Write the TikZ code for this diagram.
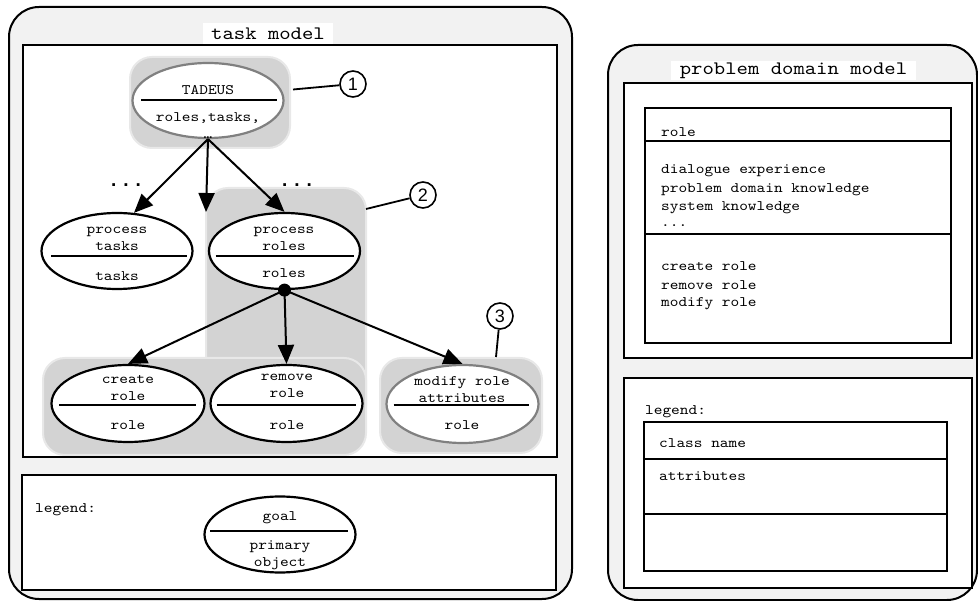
\documentclass[tikz,border=0pt]{standalone}
\usepackage{fontspec}
\newfontfamily\cour{lmmono10-regular.otf}[FakeStretch=1.14]
\newfontfamily\arial{Liberation Sans}
\usetikzlibrary{shapes.geometric,arrows.meta,calc}
\definecolor{outerfill}{HTML}{F2F2F2}
\definecolor{grpfill}{HTML}{D3D3D3}
\definecolor{grpline}{HTML}{E8E8E8}
\definecolor{ellgray}{HTML}{808080}
\begin{document}
\begin{tikzpicture}[x=1pt,y=-1pt,
 outer/.style={draw=black, line width=2pt, fill=outerfill, rounded corners=30pt},
 panel/.style={draw=black, line width=2.5pt, fill=white},
 grp/.style={draw=grpline, line width=2pt, fill=grpfill, rounded corners=22pt, inner sep=0},
 ell/.style={ellipse, draw=black, line width=2.2pt, fill=white, minimum width=151pt, minimum height=76pt, inner sep=0},
 gell/.style={ell, draw=ellgray},
 sepline/.style={line width=2.2pt},
 txt/.style={font=\cour\fontsize{14.5}{17}\selectfont, inner sep=0, align=center},
 ltxt/.style={font=\cour\fontsize{14.5}{17}\selectfont, inner sep=0, anchor=west},
 title/.style={font=\cour\fontsize{19}{20}\selectfont, fill=white, inner sep=0},
 arr/.style={line width=2pt, -{Triangle[length=19pt,width=16pt]}},
 num/.style={circle, draw, line width=1.6pt, minimum size=26pt, inner sep=0, font=\arial\fontsize{18}{20}\selectfont},
 dotstxt/.style={font=\arial\bfseries\fontsize{19}{19}\selectfont, inner sep=0},
 clsline/.style={line width=2.2pt},
]
\useasboundingbox (0,0) rectangle (978,601);

% ---------- left: task model ----------
\node[outer, minimum width=563pt, minimum height=592pt, inner sep=0] (taskouter) at (290.5,303) {};
\node[panel, minimum width=534pt, minimum height=412pt, inner sep=0] (taskpanel) at (290,251) {};
\node[title, minimum width=130pt, minimum height=21pt] (tasktitle) at (268,33.5) {task model};
\node[panel, minimum width=534pt, minimum height=115pt, inner sep=0] (legpanel) at (289,532.5) {};

% gray groups
\node[grp, minimum width=160pt, minimum height=240pt] (g2) at (286,308) {};
\node[grp, minimum width=323pt, minimum height=97pt] (g3) at (204.5,406.5) {};
\node[grp, minimum width=160pt, minimum height=91pt] (g1) at (210,102.5) {};
\node[grp, minimum width=162pt, minimum height=95pt] (g4) at (461,405.5) {};

% TADEUS
\node[gell, minimum height=75pt] (tadeus) at (208,100.5) {};
\draw[sepline] ($(tadeus.center)+(-67,-0.5)$) -- ($(tadeus.center)+(69,-0.5)$);
\node[txt] (tadeusA) at (208,90) {TADEUS};
\node[txt] (tadeusB) at (208,126) {roles,tasks,\\…};

% process tasks
\node[ell] (ptasks) at (117,251) {};
\draw[sepline] ($(ptasks.center)+(-66,5)$) -- ($(ptasks.center)+(70,5)$);
\node[txt] (ptasksA) at (117,239) {process\\tasks};
\node[txt] (ptasksB) at (117,276) {tasks};

% process roles
\node[ell] (proles) at (284.5,251) {};
\draw[sepline] ($(proles.center)+(-69,5)$) -- ($(proles.center)+(69,5)$);
\node[txt] (prolesA) at (284,238.5) {process\\roles};
\node[txt] (prolesB) at (284,273) {roles};

% create role
\node[ell, minimum width=153pt, minimum height=77pt] (create) at (128,403.5) {};
\draw[sepline] ($(create.center)+(-69,1.5)$) -- ($(create.center)+(68,1.5)$);
\node[txt] (createA) at (128,388.5) {create\\role};
\node[txt] (createB) at (128,425) {role};

% remove role
\node[ell, minimum width=152pt, minimum height=77pt] (remove) at (286.5,403.5) {};
\draw[sepline] ($(remove.center)+(-70,1.5)$) -- ($(remove.center)+(69,1.5)$);
\node[txt] (removeA) at (287,386) {remove\\role};
\node[txt] (removeB) at (287,425) {role};

% modify role attributes
\node[gell, minimum width=152pt, minimum height=78pt] (modify) at (462.5,404) {};
\draw[sepline] ($(modify.center)+(-69,1)$) -- ($(modify.center)+(66,1)$);
\node[txt] (modifyA) at (462,390) {modify role\\attributes};
\node[txt] (modifyB) at (462,425) {role};

% dots
\node[dotstxt] (dotsL) at (126,185) {. . .};
\node[dotstxt] (dotsR) at (297,185) {. . .};

% arrows from TADEUS
\coordinate (midtip) at (206,212);
\draw[arr] (tadeus.south) -- (ptasks.66);
\draw[arr] (tadeus.south) -- (midtip);
\draw[arr] (tadeus.south) -- (proles.north);

% junction dot
\node[circle, fill=black, minimum size=13pt, inner sep=0] (jdot) at (proles.south) {};
\draw[arr] (jdot.center) -- (create.north);
\draw[arr] (jdot.center) -- (remove.north);
\draw[arr] (jdot.center) -- (modify.north);

% numbered callouts
\node[num] (c1) at (353,84) {1};
\node[num] (c2) at (423,195) {2};
\node[num] (c3) at (500,316) {3};
\draw[line width=1.8pt] ($(g1.east)+(2,-13)$) -- (c1);
\draw[line width=1.8pt] ($(g2.north east)+(-1,22)$) -- (c2);
\draw[line width=1.8pt] ($(g4.north east)+(-47,0)$) -- (c3);

% legend
\node[ltxt] (legL) at (35,510) {legend:};
\node[ell] (goal) at (280,534.5) {};
\draw[sepline] ($(goal.center)+(-70,-3.5)$) -- ($(goal.center)+(68,-3.5)$);
\node[txt] (goalA) at (280,518) {goal};
\node[txt] (goalB) at (280,555) {primary\\object};

% ---------- right: problem domain model ----------
\node[outer, minimum width=369pt, minimum height=555pt, inner sep=0] (pdmouter) at (792.5,322.5) {};
\node[panel, minimum width=348pt, minimum height=275pt, inner sep=0] (pdmpanel) at (798,220.5) {};
\node[title, minimum width=245pt, minimum height=19pt] (pdmtitle) at (793.5,71) {problem domain model};
\node[panel, minimum width=348pt, minimum height=210pt, inner sep=0] (pdmleg) at (798,483) {};

% class box role
\node[draw=black, line width=2.2pt, fill=white, minimum width=306pt, minimum height=235pt, inner sep=0] (rolecls) at (798,225.5) {};
\draw[clsline] (rolecls.west |- 0,141) -- (rolecls.east |- 0,141);
\draw[clsline] (rolecls.west |- 0,234) -- (rolecls.east |- 0,234);
\node[ltxt] (rname) at (661,132) {role};
\node[ltxt] (ra1) at (661,171) {dialogue experience};
\node[ltxt] (ra2) at (661,189.5) {problem domain knowledge};
\node[ltxt] (ra3) at (661,208) {system knowledge};
\node[ltxt] (ra4) at (661,226) {...};
\node[ltxt] (ro1) at (661,266) {create role};
\node[ltxt] (ro2) at (661,285) {remove role};
\node[ltxt] (ro3) at (661,304) {modify role};

% legend class box
\node[ltxt] (legR) at (645,412) {legend:};
\node[draw=black, line width=2.2pt, fill=white, minimum width=303pt, minimum height=149pt, inner sep=0] (legcls) at (795.5,496.5) {};
\draw[clsline] (legcls.west |- 0,459) -- (legcls.east |- 0,459);
\draw[clsline] (legcls.west |- 0,514) -- (legcls.east |- 0,514);
\node[ltxt] (lc1) at (659,443) {class name};
\node[ltxt] (lc2) at (659,476) {attributes};
\end{tikzpicture}
\end{document}
